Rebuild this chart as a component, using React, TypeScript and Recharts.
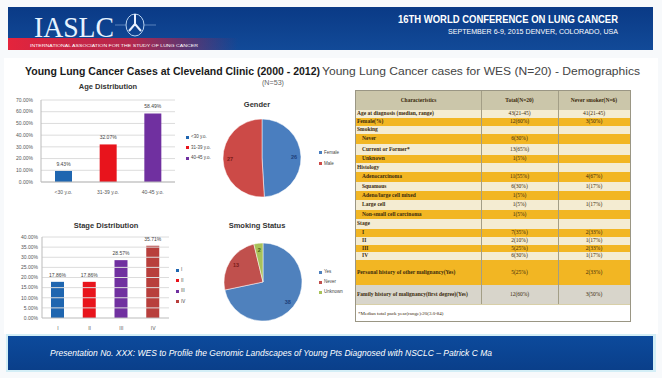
import { Bar, BarChart, CartesianGrid, Cell, LabelList, Pie, PieChart, ReferenceLine, XAxis, YAxis } from 'recharts';

// Age Distribution (N=53), percent
const ageGroups = ['<30 y.o.', '31-39 y.o.', '40-45 y.o.'];
const agePct = [9.43, 32.07, 58.49];
const ageColors = ['#1f66b0', '#e8141c', '#7030a0'];
const ageTicks = [0, 10, 20, 30, 40, 50, 60, 70];

// Stage Distribution, percent
const stages = ['I', 'II', 'III', 'IV'];
const stagePct = [17.86, 17.86, 28.57, 35.71];
const stageColors = ['#1f66b0', '#e8141c', '#7030a0', '#b83f3c'];
const stageTicks = [0, 5, 10, 15, 20, 25, 30, 35, 40];

// Gender
const genderNames = ['Female', 'Male'];
const genderCounts = [26, 27];
const genderColors = ['#4a7ebf', '#cc4a47'];

// Smoking status
const smokingNames = ['Yes', 'Never', 'Unknown'];
const smokingCounts = [38, 13, 2];
const smokingColors = ['#4f81bd', '#c0504d', '#a8c25a'];

// WES demographics table
const rowLabels = [
  'Age at diagnosis (median, range)', 'Female(%)', 'Smoking', 'Never', 'Current or Former*', 'Unknown',
  'Histology', 'Adenocarcinoma', 'Squamous', 'Adeno/large cell mixed', 'Large cell', 'Non-small cell carcinoma',
  'Stage', 'I', 'II', 'III', 'IV', 'Personal history of other malignancy(Yes)',
  'Family history of malignancy(first degree)(Yes)',
];
const rowTotal = [
  '43(21-45)', '12(60%)', '', '6(30%)', '13(65%)', '1(5%)',
  '', '11(55%)', '6(30%)', '1(5%)', '1(5%)', '1(5%)',
  '', '7(35%)', '2(10%)', '5(25%)', '6(30%)', '5(25%)', '12(60%)',
];
const rowNever = [
  '41(21-45)', '3(50%)', '', '', '', '',
  '', '4(67%)', '1(17%)', '', '1(17%)', '',
  '', '2(33%)', '1(17%)', '2(33%)', '1(17%)', '2(33%)', '3(50%)',
];
const rowHeights = [8, 8, 8, 10, 11, 8, 9, 10, 9, 9, 10, 9, 10, 8, 8, 7, 8, 25, 19];
const rowFills = [
  '#f4ecd2', '#f2b623', '#f4ecd2', '#f2b623', '#f4ecd2', '#f2b623',
  '#f4ecd2', '#f2b623', '#f4ecd2', '#f2b623', '#f4ecd2', '#f2b623',
  '#f4ecd2', '#f2b623', '#f4ecd2', '#f2b623', '#f4ecd2', '#f2b623', '#d8d5cb',
];
const indented = [3, 4, 5, 7, 8, 9, 10, 11, 13, 14, 15, 16];

const pct = (v: number) => `${Number(v).toFixed(2)}%`;
const RAD = Math.PI / 180;
const tick = { fontSize: 5, fill: '#555', fontFamily: 'Liberation Sans' };

function FitText({ x, y, w, size, text, fill = '#222', weight = 400, italic = false, family = 'Liberation Sans' }: any) {
  return (
    <text x={x} y={y} textLength={w} lengthAdjust="spacingAndGlyphs" fontSize={size} fill={fill}
      fontWeight={weight} fontStyle={italic ? 'italic' : 'normal'} fontFamily={family}>{text}</text>
  );
}

function Legend({ left, top, gap, names, colors }: any) {
  return (
    <div style={{ position: 'absolute', left, top, fontSize: 4.5, color: '#444', lineHeight: `${gap}px` }}>
      {names.map((n: string, i: number) => (
        <div key={n} style={{ display: 'flex', alignItems: 'center', height: gap }}>
          <span style={{ width: 3, height: 3, background: colors[i], marginRight: 2 }} />
          {n}
        </div>
      ))}
    </div>
  );
}

function pieLabel(colors: string[]) {
  return (p: any) => {
    const r = p.outerRadius * 0.82;
    const x = p.cx + r * Math.cos(-p.midAngle * RAD);
    const y = p.cy + r * Math.sin(-p.midAngle * RAD);
    return (
      <text x={x} y={y} fontSize={5.5} fill={colors[p.index]} textAnchor="middle" dominantBaseline="central"
        fontFamily="Liberation Sans" fontWeight={700}>{p.value}</text>
    );
  };
}

const Title = ({ x, y, text }: any) => (
  <div style={{ position: 'absolute', left: x - 60, top: y - 5, width: 120, textAlign: 'center', fontSize: 7.5,
    fontWeight: 700, color: '#333', fontFamily: 'Liberation Sans' }}>{text}</div>
);

export default function App() {
  const ageData = ageGroups.map((g, i) => ({ name: g, value: agePct[i] }));
  const stageData = stages.map((s, i) => ({ name: s, value: stagePct[i] }));
  const genderData = genderNames.map((n, i) => ({ name: n, value: genderCounts[i] }));
  const smokingData = smokingNames.map((n, i) => ({ name: n, value: smokingCounts[i] }));

  let rowTop = 109;
  return (
    <div style={{ position: 'fixed', left: 0, top: 0, width: 662, height: 378, background: '#fff', overflow: 'hidden',
      fontFamily: 'Liberation Sans' }}>
      {/* header banner + titles + footer */}
      <svg width={662} height={378} style={{ position: 'absolute', left: 0, top: 0 }}>
        <defs>
          <linearGradient id="ban" x1="0" y1="0" x2="0" y2="1">
            <stop offset="0" stopColor="#0a3a86" />
            <stop offset="1" stopColor="#124a98" />
          </linearGradient>
          <linearGradient id="red" x1="0" y1="0" x2="1" y2="0">
            <stop offset="0" stopColor="#e4243c" stopOpacity={1} />
            <stop offset="0.55" stopColor="#d8203c" stopOpacity={0.8} />
            <stop offset="1" stopColor="#c01c40" stopOpacity={0} />
          </linearGradient>
          <linearGradient id="foot" x1="0" y1="0" x2="0" y2="1">
            <stop offset="0" stopColor="#0c4a9c" />
            <stop offset="1" stopColor="#0a3f8a" />
          </linearGradient>
        </defs>
        <rect x={0} y={0} width={662} height={378} fill="#f7f9fb" />
        <rect x={4} y={58} width={654} height={276} fill="#fff" />
        <rect x={8} y={7} width={645} height={43} fill="url(#ban)" />
        <rect x={8} y={38} width={230} height={12} fill="url(#red)" />
        <FitText x={34} y={37} w={80} size={29} text="IASLC" fill="#e6f3ff" family="Liberation Serif" />
        <ellipse cx={135} cy={25} rx={9} ry={11} fill="none" stroke="#b9d3f0" strokeWidth={1} />
        <path d="M135 14 L135 26 M135 24 L129 31 M135 24 L141 31" stroke="#e8f0ff" strokeWidth={2} fill="none" />
        <line x1={115} y1={25} x2={126} y2={25} stroke="#8fb0dc" strokeWidth={0.6} />
        <line x1={144} y1={25} x2={156} y2={25} stroke="#8fb0dc" strokeWidth={0.6} />
        <FitText x={30} y={47} w={168} size={4} text="INTERNATIONAL ASSOCIATION FOR THE STUDY OF LUNG CANCER" fill="#fff" />
        <FitText x={398} y={23} w={220} size={10} weight={700} text="16TH WORLD CONFERENCE ON LUNG CANCER" fill="#fff" />
        <FitText x={448} y={34} w={170} size={6.5} text="SEPTEMBER 6-9, 2015    DENVER, COLORADO, USA" fill="#fff" />

        <FitText x={25} y={75} w={295} size={11} weight={700} text="Young Lung Cancer Cases at Cleveland Clinic (2000 - 2012)" fill="#1a1a1a" />
        <FitText x={322} y={75} w={318} size={11} text="Young  Lung Cancer cases for WES (N=20) - Demographics" fill="#444" />
        <FitText x={262} y={85} w={22} size={7} text="(N=53)" fill="#666" />

        <rect x={6} y={334} width={650} height={38} fill="#d3eef6" />
        <rect x={8} y={336} width={645} height={34} fill="url(#foot)" />
        <FitText x={50} y={356} w={442} size={9} italic text="Presentation  No. XXX: WES to Profile the Genomic Landscapes  of Young Pts Diagnosed with NSCLC – Patrick C Ma" fill="#fff" />
      </svg>

      <Title x={108} y={87} text="Age Distribution" />
      <div style={{ position: 'absolute', left: 0, top: 95 }}>
        <BarChart width={178} height={100} data={ageData} margin={{ top: 5, right: 3, bottom: 0, left: 0 }}>
          <CartesianGrid vertical={false} stroke="#dcdcdc" />
          <XAxis dataKey="name" height={13} tick={tick} tickLine={false} axisLine={{ stroke: '#bbb' }} interval={0} />
          <YAxis width={41} domain={[0, 70]} ticks={ageTicks} tickFormatter={pct} tick={tick} tickLine={false}
            axisLine={{ stroke: '#bbb' }} interval={0} minTickGap={0} />
          <Bar dataKey="value" barSize={17} isAnimationActive={false}>
            {ageData.map((d, i) => <Cell key={d.name} fill={ageColors[i]} />)}
            <LabelList dataKey="value" position="top" formatter={(v: any) => pct(v)}
              style={{ fontSize: 5, fill: '#444' }} />
          </Bar>
        </BarChart>
      </div>
      <Legend left={186} top={132} gap={10.5} names={ageGroups} colors={ageColors} />

      <Title x={106} y={226} text="Stage Distribution" />
      <div style={{ position: 'absolute', left: 0, top: 232 }}>
        <BarChart width={172} height={98} data={stageData} margin={{ top: 5, right: 3, bottom: 0, left: 0 }}>
          <XAxis dataKey="name" height={12} tick={tick} tickLine={false} axisLine={{ stroke: '#bbb' }} interval={0} />
          <YAxis width={42} domain={[0, 40]} ticks={stageTicks} tick={false} tickLine={false}
            axisLine={{ stroke: '#bbb' }} />
          {stageTicks.map((t) => (
            <ReferenceLine key={t} y={t} stroke={t === 0 ? 'none' : '#dcdcdc'}
              label={{ value: pct(t), position: 'left', offset: 4, ...tick }} />
          ))}
          <Bar dataKey="value" barSize={13} isAnimationActive={false}>
            {stageData.map((d, i) => <Cell key={d.name} fill={stageColors[i]} />)}
            <LabelList dataKey="value" position="top" formatter={(v: any) => pct(v)}
              style={{ fontSize: 5, fill: '#444' }} />
          </Bar>
        </BarChart>
      </div>
      <Legend left={176} top={265} gap={10.5} names={stages} colors={stageColors} />

      <Title x={257} y={105} text="Gender" />
      <div style={{ position: 'absolute', left: 210, top: 110 }}>
        <PieChart width={104} height={96} margin={{ top: 0, right: 0, bottom: 0, left: 0 }}>
          <Pie data={genderData} dataKey="value" nameKey="name" cx="50%" cy="50%" outerRadius={39}
            startAngle={90} endAngle={-270} stroke="#fff" strokeWidth={0.5} labelLine={false}
            label={pieLabel(['#1d3f7a', '#7a1c1a'])} isAnimationActive={false}>
            {genderData.map((d, i) => <Cell key={d.name} fill={genderColors[i]} />)}
          </Pie>
        </PieChart>
      </div>
      <Legend left={319} top={147} gap={11} names={genderNames} colors={genderColors} />

      <Title x={257} y={226} text="Smoking Status" />
      <div style={{ position: 'absolute', left: 211, top: 234 }}>
        <PieChart width={104} height={96} margin={{ top: 0, right: 0, bottom: 0, left: 0 }}>
          <Pie data={smokingData} dataKey="value" nameKey="name" cx="50%" cy="50%" outerRadius={39}
            startAngle={90} endAngle={-270} stroke="#fff" strokeWidth={0.5} labelLine={false}
            label={pieLabel(['#1d3f7a', '#7a1c1a', '#4a5a1a'])} isAnimationActive={false}>
            {smokingData.map((d, i) => <Cell key={d.name} fill={smokingColors[i]} />)}
          </Pie>
        </PieChart>
      </div>
      <Legend left={319} top={267} gap={10} names={smokingNames} colors={smokingColors} />

      {/* demographics table */}
      <div style={{ position: 'absolute', left: 355, top: 90, width: 276, height: 232, border: '1px solid #9a9684',
        fontFamily: 'Liberation Serif', fontSize: 5.5, color: '#3b2a0c', boxSizing: 'border-box', background: '#fff' }}>
        <div style={{ position: 'absolute', left: 0, top: 0, width: 274, height: 19, background: '#cbc6aa',
          borderBottom: '1px solid #a39e86', fontWeight: 700 }}>
          <div style={{ position: 'absolute', left: 0, width: 125, top: 6, textAlign: 'center' }}>Characteristics</div>
          <div style={{ position: 'absolute', left: 125, width: 77, top: 6, textAlign: 'center' }}>Total(N=20)</div>
          <div style={{ position: 'absolute', left: 202, width: 72, top: 6, textAlign: 'center' }}>Never smoker(N=6)</div>
        </div>
        {rowLabels.map((lab, i) => {
          const top = rowTop - 90;
          rowTop += rowHeights[i];
          const h = rowHeights[i];
          return (
            <div key={lab + i} style={{ position: 'absolute', left: 0, top, width: 274, height: h, background: rowFills[i],
              borderBottom: '0.5px solid #d8cfa8', lineHeight: 1.05 }}>
              <div style={{ position: 'absolute', left: indented.includes(i) ? 6 : 1, width: 120, top: '50%',
                transform: 'translateY(-50%)', fontWeight: 700 }}>{lab}</div>
              <div style={{ position: 'absolute', left: 125, width: 77, top: '50%', transform: 'translateY(-50%)',
                textAlign: 'center' }}>{rowTotal[i]}</div>
              <div style={{ position: 'absolute', left: 202, width: 72, top: '50%', transform: 'translateY(-50%)',
                textAlign: 'center' }}>{rowNever[i]}</div>
            </div>
          );
        })}
        <div style={{ position: 'absolute', left: 125, top: 0, width: 0.5, height: 213, background: '#a39e86' }} />
        <div style={{ position: 'absolute', left: 202, top: 0, width: 0.5, height: 213, background: '#a39e86' }} />
        <div style={{ position: 'absolute', left: 2, top: 220, fontSize: 5 }}>*Median total pack year(range):20(3.0-84)</div>
      </div>
    </div>
  );
}
